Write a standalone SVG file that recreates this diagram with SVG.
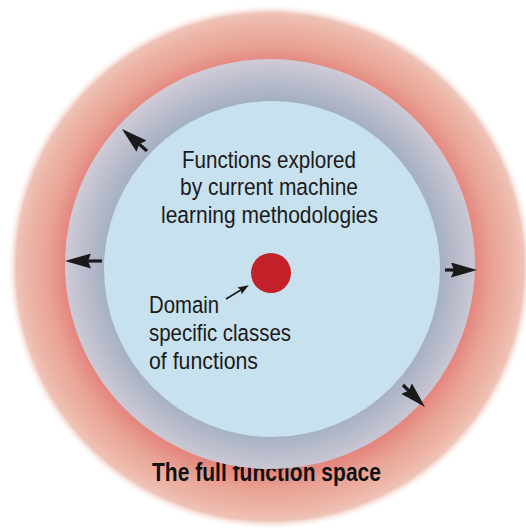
<svg xmlns="http://www.w3.org/2000/svg" width="526" height="528" viewBox="0 0 526 528">
  <defs>
    <radialGradient id="pinkGrad" gradientUnits="userSpaceOnUse" cx="270" cy="267" r="263">
      <stop offset="0" stop-color="#e4877f"/>
      <stop offset="0.78" stop-color="#e4877f"/>
      <stop offset="0.85" stop-color="#e9a496"/>
      <stop offset="0.92" stop-color="#ecb4a6"/>
      <stop offset="0.965" stop-color="#efc3b7"/>
      <stop offset="1" stop-color="#ffffff" stop-opacity="0"/>
    </radialGradient>
    <radialGradient id="greyGrad" gradientUnits="userSpaceOnUse" cx="272" cy="267" r="207">
      <stop offset="0" stop-color="#a3afc1"/>
      <stop offset="0.8" stop-color="#a3afc1"/>
      <stop offset="1" stop-color="#cfcad6"/>
    </radialGradient>
    <marker id="bigHead" viewBox="0 0 26 15" refX="13" refY="7.5" markerWidth="26" markerHeight="15" markerUnits="userSpaceOnUse" orient="auto">
      <path d="M0,0 L26,7.5 L0,15 L3,7.5 Z" fill="#1a1a1a"/>
    </marker>
    <marker id="smallHead" viewBox="0 0 11 8" refX="6" refY="4" markerWidth="11" markerHeight="8" markerUnits="userSpaceOnUse" orient="auto">
      <path d="M0,0 L11,4 L0,8 L2,4 Z" fill="#1a1a1a"/>
    </marker>
    <style>
      .lbl { font-family: "Liberation Sans", Arial, sans-serif; font-size: 24.5px; fill: #1a1a1a; }
      .title { font-family: "Liberation Sans", Arial, sans-serif; font-size: 25px; font-weight: bold; fill: #111111; }
      .big { stroke: #1a1a1a; stroke-width: 3.2; fill: none; marker-end: url(#bigHead); }
      .small { stroke: #1a1a1a; stroke-width: 1.6; fill: none; marker-end: url(#smallHead); }
    </style>
  </defs>

  <rect width="526" height="528" fill="#ffffff"/>

  <g id="full-space">
    <circle cx="270" cy="267" r="263" fill="url(#pinkGrad)"/>
    <text class="title" x="152" y="481" textLength="229" lengthAdjust="spacingAndGlyphs">The full function space</text>
  </g>

  <g id="ml-ring">
    <circle cx="270" cy="264" r="205" fill="url(#greyGrad)"/>
  </g>

  <g id="ml-functions">
    <circle cx="272" cy="269" r="168" fill="#c8e1ee"/>
    <text class="lbl" x="182" y="168" textLength="174" lengthAdjust="spacingAndGlyphs">Functions explored</text>
    <text class="lbl" x="180" y="195" textLength="178" lengthAdjust="spacingAndGlyphs">by current machine</text>
    <text class="lbl" x="161" y="223" textLength="217" lengthAdjust="spacingAndGlyphs">learning methodologies</text>
  </g>

  <g id="domain">
    <circle cx="271" cy="273" r="20" fill="#c4202a"/>
    <text class="lbl" x="149" y="313" textLength="70" lengthAdjust="spacingAndGlyphs">Domain</text>
    <text class="lbl" x="149" y="341" textLength="142" lengthAdjust="spacingAndGlyphs">specific classes</text>
    <text class="lbl" x="149" y="369" textLength="109" lengthAdjust="spacingAndGlyphs">of functions</text>
  </g>

  <g id="connectors">
    <line class="small" x1="226" y1="299" x2="244.5" y2="287.8"/>
    <line class="big" x1="147" y1="151" x2="131.7" y2="137.6"/>
    <line class="big" x1="102" y1="261" x2="78" y2="261"/>
    <line class="big" x1="445" y1="270" x2="464" y2="270"/>
    <line class="big" x1="403" y1="385" x2="415.8" y2="397.8"/>
  </g>
</svg>
